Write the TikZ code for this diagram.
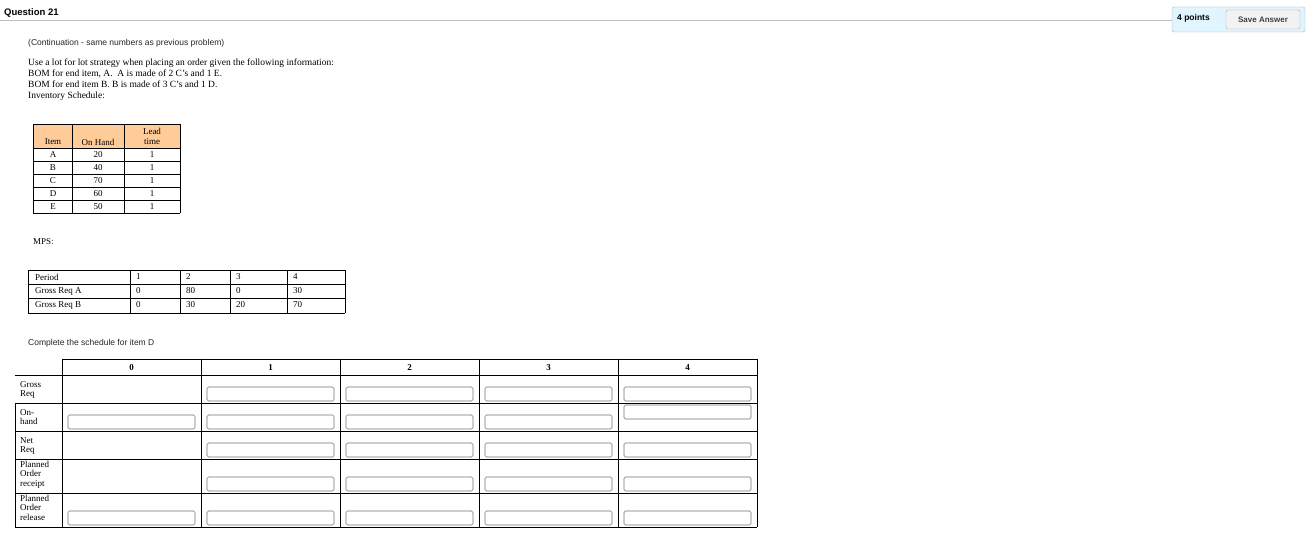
\documentclass[tikz,border=0pt]{standalone}
\usepackage{fontspec}
\setmainfont{Liberation Serif}
\setsansfont{Liberation Sans}
\begin{document}
\begin{tikzpicture}[x=1pt,y=-1pt,
  ser/.style={font=\fontsize{9.5}{10}\selectfont,inner sep=0pt},
  sm/.style={font=\fontsize{9}{9}\selectfont,inner sep=0pt},
  sanst/.style={font=\sffamily\fontsize{8.5}{9}\selectfont,inner sep=0pt,text=black!85},
  tl/.style={draw=black,line width=0.9pt},
  ibox/.style={draw=black!55,rounded corners=1.5pt,line width=0.6pt}]
\useasboundingbox (0,0) rectangle (1315,545);
\fill[white] (0,0) rectangle (1315,545);
% header
\node[anchor=west,font=\sffamily\bfseries\fontsize{9.5}{10}\selectfont,inner sep=0pt] (q) at (4,13) {Question 21};
\draw[black!25,line width=0.8pt] (0,20) -- (1172,20);
\draw[black!30,fill=cyan!12,rounded corners=2pt] (1172,7) rectangle (1305,32);
\node[anchor=west,font=\sffamily\bfseries\fontsize{8.5}{9}\selectfont,inner sep=0pt] (pts) at (1177,18.5) {4 points};
\draw[black!30,fill=black!5,rounded corners=1.5pt] (1226,10) rectangle (1300,29);
\node[font=\sffamily\bfseries\fontsize{8}{9}\selectfont,inner sep=0pt,text=black!75] (sv) at (1263,19.5) {Save Answer};
% intro
\node[sanst,anchor=west] (c) at (28,43) {(Continuation - same numbers as previous problem)};
\node[ser,anchor=north west,align=left,font=\fontsize{9.5}{11}\selectfont] (t) at (28,59)
 {Use a lot for lot strategy when placing an order given the following information:\\
  BOM for end item, A.\ \ A is made of 2 C's and 1 E.\\
  BOM for end item B. B is made of 3 C's and 1 D.\\
  Inventory Schedule:};
% inventory table
\fill[orange!40] (33,124) rectangle (180,148);
\foreach \y in {124,148,161,174,187,200,213} \draw[tl] (33,\y) -- (180,\y);
\foreach \x in {33,72,124,180} \draw[tl] (\x,124) -- (\x,213);
\node[sm] at (53,142) {Item};
\node[sm] at (98,142) {On Hand};
\node[sm,align=center,font=\fontsize{9}{10}\selectfont] at (152,136) {Lead\\time};
\foreach \it/\oh [count=\i] in {A/20,B/40,C/70,D/60,E/50}{
  \node[sm] at (53,{148+13*\i-6.5}) {\it};
  \node[sm] at (98,{148+13*\i-6.5}) {\oh};
  \node[sm] at (152,{148+13*\i-6.5}) {1};}
\node[sm,anchor=west] (mps) at (33,242) {MPS:};
% MPS table
\foreach \y in {270,284,298,313} \draw[tl] (28,\y) -- (345,\y);
\foreach \x in {28,130,180,230,287,345} \draw[tl] (\x,270) -- (\x,313);
\foreach \lab/\a/\b/\c/\d [count=\r] in {Period/1/2/3/4,Gross Req A/0/80/0/30,Gross Req B/0/30/20/70}{
  \pgfmathsetmacro\yy{270+14*\r-7}
  \node[sm,anchor=west] at (35,\yy) {\lab};
  \node[sm,anchor=west] at (136,\yy) {\a};
  \node[sm,anchor=west] at (186,\yy) {\b};
  \node[sm,anchor=west] at (236,\yy) {\c};
  \node[sm,anchor=west] at (293,\yy) {\d};}
\node[sanst,anchor=west] (cs) at (28,343) {Complete the schedule for item D};
% schedule table
\draw[tl] (62,359) -- (757,359);
\draw[tl] (15,375) -- (757,375);
\foreach \y in {403,431,459,493,527} \draw[tl] (15,\y) -- (757,\y);
\draw[tl] (15,403) -- (15,527);
\foreach \x in {62,201,340,479,618,757} \draw[tl] (\x,359) -- (\x,527);
\foreach \n [count=\i from 0] in {0,1,2,3,4}
  \node[sm,font=\bfseries\fontsize{9}{9}\selectfont] at ({131.5+139*\i},368) {\n};
\node[sm,anchor=north west,align=left,font=\fontsize{9}{9.5}\selectfont] at (20,381) {Gross\\Req};
\node[sm,anchor=north west,align=left,font=\fontsize{9}{9.5}\selectfont] at (20,409) {On-\\hand};
\node[sm,anchor=north west,align=left,font=\fontsize{9}{9.5}\selectfont] at (20,437) {Net\\Req};
\node[sm,anchor=north west,align=left,font=\fontsize{9}{9.5}\selectfont] at (20,461) {Planned\\Order\\receipt};
\node[sm,anchor=north west,align=left,font=\fontsize{9}{9.5}\selectfont] at (20,495) {Planned\\Order\\release};
% input boxes
\foreach \c in {1,2,3}{
  \foreach \b in {403,431,459,493,527}
    \draw[ibox] ({62+139*\c+6},\b-16) rectangle ({62+139*\c+133},\b-2);}
\foreach \b in {403,459,493,527}
  \draw[ibox] ({62+139*4+6},\b-16) rectangle ({62+139*4+133},\b-2);
\draw[ibox] ({62+139*4+6},405) rectangle ({62+139*4+133},419);
\foreach \b in {431,527}
  \draw[ibox] (68,\b-16) rectangle (195,\b-2);
\end{tikzpicture}
\end{document}
